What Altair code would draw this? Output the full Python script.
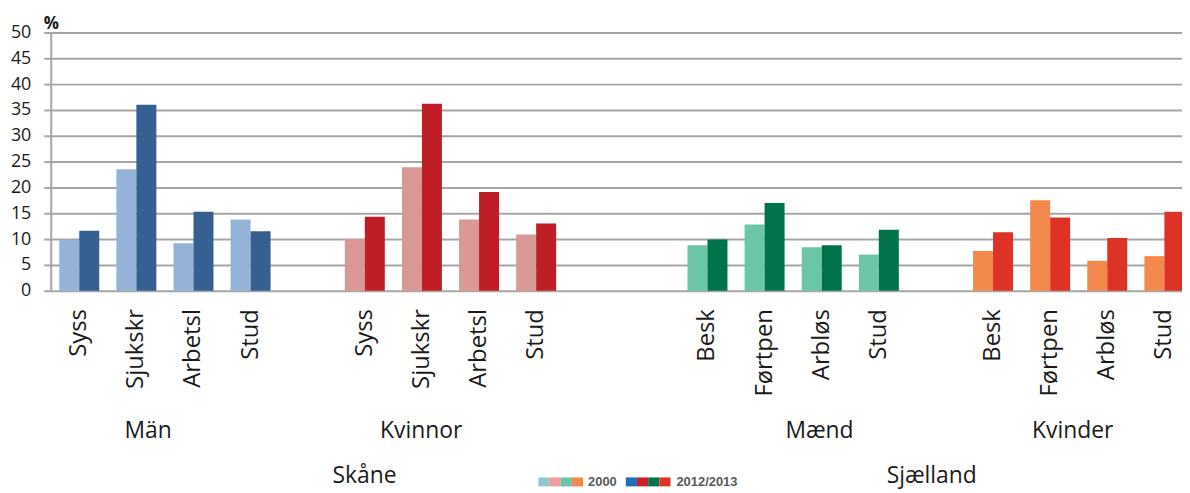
import altair as alt
import pandas as pd

# ---------------- data ----------------
groups = ["Män", "Kvinnor", "Mænd", "Kvinder"]
regions = ["Skåne", "Sjælland"]
years = ["2000", "2012/2013"]

cats_se = ["Syss", "Sjukskr", "Arbetsl", "Stud"]
cats_dk = ["Besk", "Førtpen", "Arbløs", "Stud"]

man_2000 = [9.8, 23.5, 9.2, 13.8]
man_2012 = [11.6, 36.0, 15.3, 11.5]
kvinnor_2000 = [10.0, 23.9, 13.8, 10.9]
kvinnor_2012 = [14.3, 36.2, 19.1, 13.0]
maend_2000 = [8.8, 12.8, 8.4, 7.0]
maend_2012 = [9.9, 17.0, 8.8, 11.8]
kvinder_2000 = [7.7, 17.5, 5.8, 6.7]
kvinder_2012 = [11.3, 14.2, 10.2, 15.3]

# ---------------- styling ----------------
FONT = "Open Sans"
TEXT = "#1a1a1a"
GRID = "#a6a6a6"

bar_colors = {
    ("Män", "2000"): "#95b3d7", ("Män", "2012/2013"): "#366092",
    ("Kvinnor", "2000"): "#d99795", ("Kvinnor", "2012/2013"): "#be1f26",
    ("Mænd", "2000"): "#6bc6a6", ("Mænd", "2012/2013"): "#00734a",
    ("Kvinder", "2000"): "#f3894a", ("Kvinder", "2012/2013"): "#dd3327",
}
legend_light = ["#8ec8cd", "#f39a9c", "#6cc5a3", "#f4894b"]
legend_dark = ["#1f6fbd", "#cd2129", "#00754a", "#df3428"]

group_cats = [cats_se, cats_se, cats_dk, cats_dk]
group_vals = [(man_2000, man_2012), (kvinnor_2000, kvinnor_2012),
              (maend_2000, maend_2012), (kvinder_2000, kvinder_2012)]
gaps_after = [1, 2, 1, 0]

rows = []
slots = []
gap_id = 0
for g, cats, (v0, v1), gap in zip(groups, group_cats, group_vals, gaps_after):
    for i, c in enumerate(cats):
        sid = f"{g}|{c}"
        slots.append(sid)
        rows.append({"slot": sid, "year": years[0], "value": v0[i], "key": f"{g}|{years[0]}"})
        rows.append({"slot": sid, "year": years[1], "value": v1[i], "key": f"{g}|{years[1]}"})
    for _ in range(gap):
        gap_id += 1
        slots.append(f"gap{gap_id}|")
df = pd.DataFrame(rows)

keys = [f"{g}|{y}" for g in groups for y in years]
key_colors = [bar_colors[(g, y)] for g in groups for y in years]

W, H = 1139, 260

bars = alt.Chart(df).mark_bar().encode(
    x=alt.X("slot:N",
            scale=alt.Scale(domain=slots, range=[0, 1150], paddingInner=0.3, paddingOuter=0.15),
            axis=alt.Axis(title=None, labelExpr="split(datum.value, '|')[1]", labelAngle=270,
                          labelAlign="right", labelBaseline="middle", labelPadding=18,
                          labelFontSize=24, labelFont=FONT, labelColor=TEXT,
                          ticks=False, domain=False, grid=False, labelOverlap=False,
                          labelBound=False, labelFlush=False)),
    xOffset=alt.XOffset("year:N", scale=alt.Scale(domain=years, paddingInner=0, paddingOuter=0)),
    y=alt.Y("value:Q", scale=alt.Scale(domain=[0, 50], nice=False),
            axis=alt.Axis(title=None, values=list(range(0, 51, 5)), grid=True, gridColor=GRID,
                          gridWidth=2, tickSize=7, tickColor=GRID, tickWidth=2,
                          domainColor=GRID, domainWidth=2, labelFontSize=18, labelFont=FONT,
                          labelColor=TEXT, labelPadding=13)),
    color=alt.Color("key:N", scale=alt.Scale(domain=keys, range=key_colors), legend=None),
)

layers = [bars]

def label_layer(text, px, py, size=23, weight="normal", align="center", color=TEXT, font=FONT):
    return alt.Chart(pd.DataFrame({"t": [text]})).mark_text(
        fontSize=size, font=font, fontWeight=weight, align=align, baseline="alphabetic", color=color
    ).encode(x=alt.value(px), y=alt.value(py), text="t:N")

# group labels
for name, px in zip(groups, [98, 373, 774, 1029]):
    layers.append(label_layer(name, px, 408))
# region labels
for name, px in zip(regions, [316, 887]):
    layers.append(label_layer(name, px, 454))
# percent sign
layers.append(label_layer("%", -7, -4, size=17, weight="bold", align="left"))

# legend
sw = 11.25
def swatch(px, c):
    return alt.Chart(pd.DataFrame({"c": [c]})).mark_rect(color=c).encode(
        x=alt.value(px), x2=alt.value(px + sw), y=alt.value(448), y2=alt.value(457))

for i, c in enumerate(legend_light):
    layers.append(swatch(491 + i * sw, c))
layers.append(label_layer(years[0], 541, 457, size=13, weight="bold", align="left",
                          color="#595959", font="Liberation Sans"))
for i, c in enumerate(legend_dark):
    layers.append(swatch(579 + i * sw, c))
layers.append(label_layer(years[1], 630, 457, size=13, weight="bold", align="left",
                          color="#595959", font="Liberation Sans"))

chart = alt.layer(*layers).properties(
    width=W, height=H,
    autosize=alt.AutoSizeParams(type="none"),
    padding={"left": 43, "top": 23, "right": 0, "bottom": 201},
    background="white",
).configure_view(stroke=None)

chart.save("out.html", embed_options={"renderer": "svg", "actions": False})
